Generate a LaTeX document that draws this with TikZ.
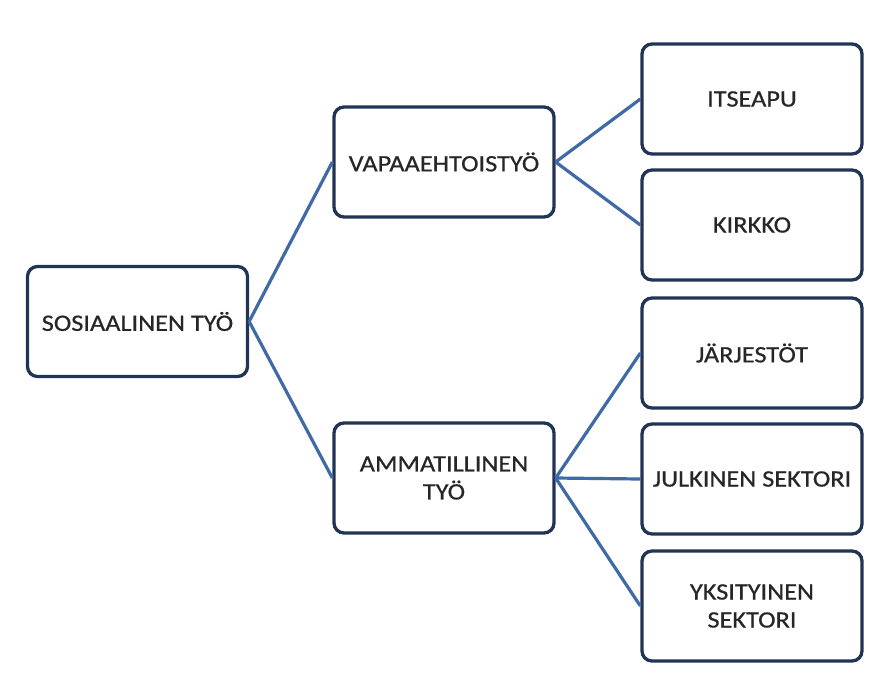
\documentclass[tikz,border=0pt]{standalone}
\usepackage{fontspec}
\setmainfont{Carlito}[FakeStretch=1.12,FakeBold=0.6]
\usepackage{tikz}
\definecolor{boxline}{RGB}{33,52,86}
\definecolor{linkline}{RGB}{64,106,166}

\begin{document}
\begin{tikzpicture}[x=1pt,y=-1pt,
    box/.style={draw=boxline,line width=3.3pt,rounded corners=10pt,fill=white,
      minimum width=220pt,minimum height=110pt,align=center,inner sep=2pt,
      text=black!85,font=\fontsize{23.5}{28}\selectfont},
    link/.style={draw=linkline,line width=3.2pt}]
    \useasboundingbox (0,0) rectangle (891,681);

    \node[box] (sos) at (137.5,321.5) {SOSIAALINEN TYÖ};
    \node[box] (vapaa) at (444,162) {VAPAAEHTOISTYÖ};
    \node[box] (ammat) at (444,478) {AMMATILLINEN\\TYÖ};
    \node[box] (itse) at (752,99) {ITSEAPU};
    \node[box] (kirkko) at (752,225) {KIRKKO};
    \node[box] (jarj) at (752,353) {JÄRJESTÖT};
    \node[box] (julk) at (752,479) {JULKINEN SEKTORI};
    \node[box] (yksi) at (752,606) {YKSITYINEN\\SEKTORI};

   \begin{scope}[link]
    \draw (sos.east) -- (vapaa.west) ;
    \draw (sos.east) -- (ammat.west) ;
    \draw (vapaa.east) -- (itse.west) ;
    \draw (vapaa.east) -- (kirkko.west) ;
    \draw (ammat.east) -- (jarj.west) ;
    \draw (ammat.east) -- (julk.west) ;
    \draw (ammat.east) -- (yksi.west) ;
   \end{scope}

\end{tikzpicture}
\end{document}
